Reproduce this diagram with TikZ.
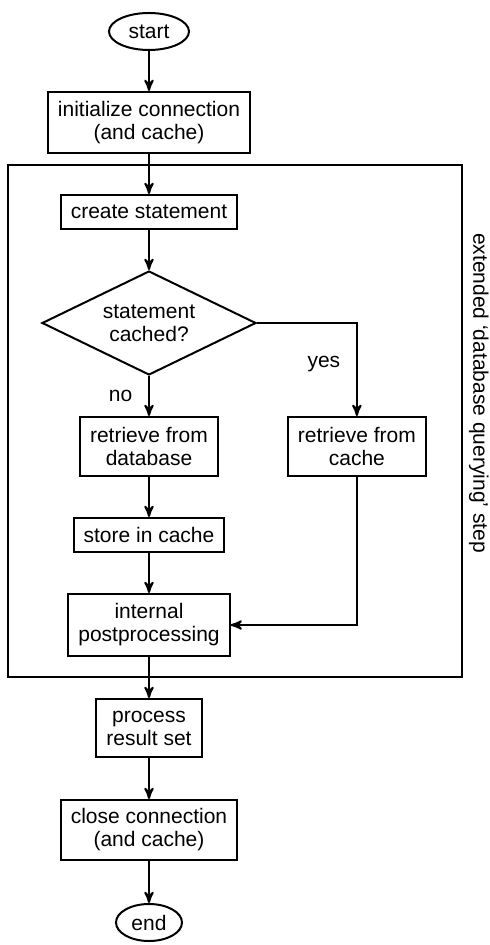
\documentclass[tikz,border=0pt]{standalone}
\usepackage{fontspec}
\setmainfont{Liberation Sans}
\usetikzlibrary{positioning,shapes,arrows,calc,fit}

\begin{document}
\begin{tikzpicture}[
  line width=1pt,
	node distance=20pt,
	>=stealth',
	every node/.style={
		text centered,
		font=\fontsize{10.5}{11.5}\selectfont
	},
	block/.style={
		rectangle,
		draw=black,
		align=center,
		inner xsep=5pt,
		inner ysep=3pt,
		minimum height=17pt
	},
	tallblock/.style={
		block,
		minimum height=30pt
	},
	terminal/.style={
		ellipse,
		draw=black,
		minimum width=40pt,
		minimum height=18.5pt,
		inner sep=0pt
	},
	decision/.style={
		diamond,
		aspect=2,
		draw=black,
		align=center,
		minimum width=107pt,
		minimum height=52pt,
		inner sep=0pt
	}
]

  \node (Start) [terminal] {start};
  \useasboundingbox ($(Start.center)+(-74.5pt,15.75pt)$) rectangle ($(Start.center)+(170pt,-456.75pt)$);
  \node (InitConnection) [tallblock, minimum height=30.5pt, below=of Start] {initialize connection\\(and cache)};
  \node (CreateStatement) [block, below=of InitConnection] {create statement};
  \node (StatementCached) [decision, below=of CreateStatement] {statement\\cached?};
  \node (RetrieveDatabase) [tallblock, minimum height=29.5pt, below=of StatementCached] {retrieve from\\database};
  \node (RetrieveCache) [tallblock, minimum height=29.5pt, right=34pt of RetrieveDatabase] {retrieve from\\cache};
  \node (StoreCache) [block, below=of RetrieveDatabase] {store in cache};
  \node (Postprocessing) [tallblock, minimum height=31pt, below=of StoreCache] {internal\\postprocessing};
  \node (ProcessResult) [tallblock, minimum height=29pt, below=20.5pt of Postprocessing] {process\\result set};
  \node (CloseConnection) [tallblock, below=20.5pt of ProcessResult] {close connection\\(and cache)};
  \node (End) [terminal, minimum width=33pt, below=21pt of CloseConnection] {end};

  % box round the extended step
  \coordinate (ExtNW) at ($(StatementCached.west |- CreateStatement.north) + (-16.5pt,14.5pt)$);
  \coordinate (ExtSE) at ($(RetrieveCache.east |- Postprocessing.south) + (17.5pt,-10pt)$);
  \node (Extended) [draw, fit=(ExtNW)(ExtSE), inner sep=0pt] {};
  \node (ExtendedLabel) [rotate=-90] at ($(Extended.east) + (8pt,14pt)$) {extended `database querying' step};

  \draw[->] (Start) -- (InitConnection);
  \draw[->] (InitConnection) -- (CreateStatement);
  \draw[->] (CreateStatement) -- (StatementCached);
  \draw[->] (StatementCached) -- node[left=4.5pt] {no} (RetrieveDatabase);
  \draw[->] (StatementCached.east) -| node[pos=0.72, left=4.5pt] {yes} (RetrieveCache);
  \draw[->] (RetrieveDatabase) -- (StoreCache);
  \draw[->] (StoreCache) -- (Postprocessing);
  \draw[->] (RetrieveCache) |- (Postprocessing);
  \draw[->] (Postprocessing) -- (ProcessResult);
  \draw[->] (ProcessResult) -- (CloseConnection);
  \draw[->] (CloseConnection) -- (End);
\end{tikzpicture}
\end{document}
